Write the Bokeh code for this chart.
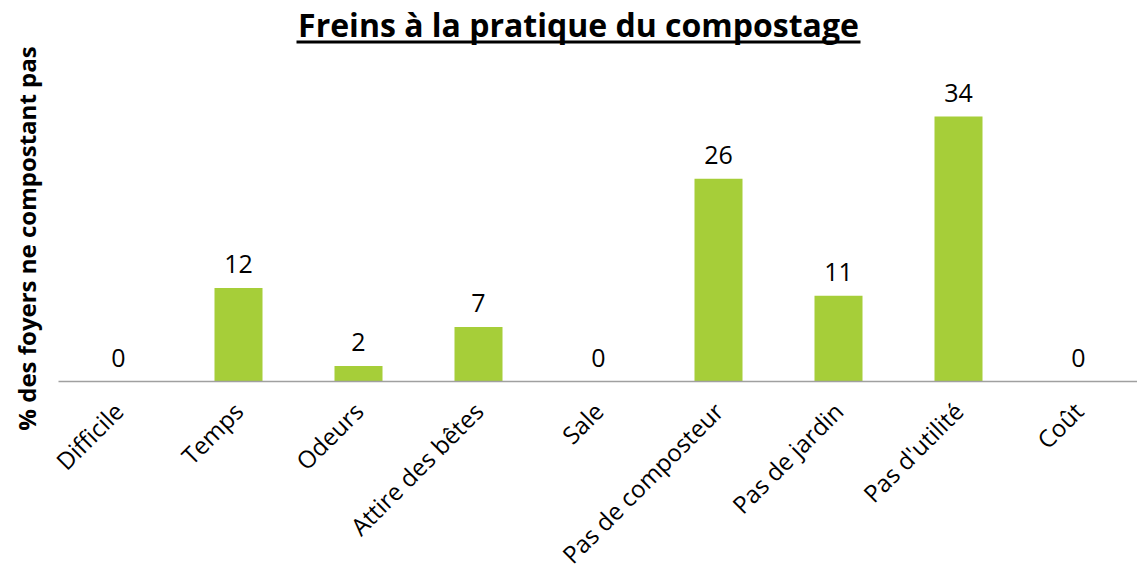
import math
from bokeh.plotting import figure
from bokeh.models import (ColumnDataSource, Range1d, Label, BoxAnnotation,
                          LinearAxis, FixedTicker)
from bokeh.core.properties import value
from bokeh.embed import file_html
from bokeh.resources import INLINE

categories = ["Difficile", "Temps", "Odeurs", "Attire des bêtes", "Sale",
              "Pas de composteur", "Pas de jardin", "Pas d'utilité", "Coût"]
values = [0, 12, 2, 7, 0, 26, 11, 34, 0]
title_text = "Freins à la pratique du compostage"
y_label_text = "% des foyers ne compostant pas"

FONT = "Open Sans"
W, H = 1137, 580
BASE_Y = 381           # canvas y of the baseline (value 0)
PX_PER_UNIT_Y = 7.794
BAND = 120.0           # px per category
X0 = 58                # canvas x of the left edge of first band

positions = list(range(len(categories)))
src = ColumnDataSource(dict(x=positions, val=values,
                            lbl=[str(v) for v in values]))

x_start = -0.5 - X0 / BAND
x_end = x_start + W / BAND
y_end = BASE_Y / PX_PER_UNIT_Y
y_start = -(H - BASE_Y) / PX_PER_UNIT_Y

p = figure(x_range=Range1d(x_start, x_end), y_range=Range1d(y_start, y_end),
           width=W, height=H, output_backend="svg", toolbar_location=None,
           x_axis_location=None, y_axis_location=None,
           min_border=0)
p.outline_line_color = None
p.background_fill_color = "white"
p.border_fill_color = "white"
p.xgrid.visible = False
p.ygrid.visible = False

p.vbar(x="x", top="val", width=0.4, source=src, color="#A6CE39",
       line_color=None)
p.text(x="x", y="val", text="lbl", source=src, text_align="center",
       text_baseline="alphabetic", y_offset=-24,
       text_font=value(FONT), text_font_size="25px", text_color="#000000")

xa = LinearAxis(fixed_location=0, bounds=(-0.5, len(categories) - 0.5),
                ticker=FixedTicker(ticks=positions),
                major_label_overrides={i: c for i, c in enumerate(categories)})
xa.axis_line_color = "#A0A0A0"
xa.axis_line_width = 1.5
xa.major_tick_line_color = None
xa.minor_tick_line_color = None
xa.major_label_orientation = math.pi / 4
xa.major_label_text_font = FONT
xa.major_label_text_font_size = "24px"
xa.major_label_text_color = "#000000"
xa.major_label_standoff = 19
p.add_layout(xa, "below")

# title (underlined, bold)
p.add_layout(Label(x=578, y=H - 36 + 12, x_units="screen",
                   y_units="screen", text=title_text, text_align="center",
                   text_baseline="alphabetic", text_font=FONT,
                   text_font_size="32px", text_font_style="bold",
                   text_color="#000000"))
p.add_layout(BoxAnnotation(left=296, right=860,
                           top=H - 40, bottom=H - 43,
                           left_units="screen", right_units="screen",
                           top_units="screen", bottom_units="screen",
                           fill_color="#000000", fill_alpha=1.0,
                           line_color=None))

# y-axis title
p.add_layout(Label(x=26, y=H - 238, x_units="screen",
                   y_units="screen", text=y_label_text, angle=math.pi / 2,
                   text_align="center", text_baseline="middle",
                   text_font=FONT, text_font_size="24px",
                   text_font_style="bold", text_color="#000000"))

open("out.html", "w").write(file_html(p, INLINE))
